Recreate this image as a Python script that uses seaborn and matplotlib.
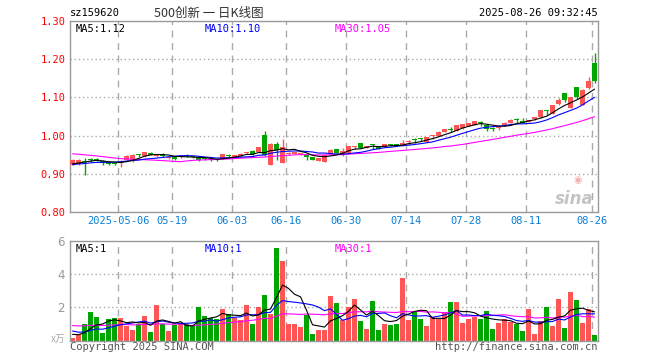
import numpy as np
import pandas as pd
import matplotlib
matplotlib.use("Agg")
import matplotlib.pyplot as plt
import seaborn as sns

# ---------------- data ----------------
opens = [0.924, 0.925, 0.934, 0.939, 0.938, 0.934, 0.930, 0.929, 0.928, 0.936,
         0.934, 0.950, 0.946, 0.955, 0.946, 0.953, 0.941, 0.944, 0.943, 0.948,
         0.945, 0.945, 0.941, 0.937, 0.937, 0.941, 0.948, 0.943, 0.946, 0.954,
         0.960, 0.957, 1.002, 0.923, 0.979, 0.929, 0.952, 0.953, 0.951, 0.950,
         0.944, 0.934, 0.932, 0.953, 0.964, 0.948, 0.955, 0.971, 0.980, 0.968,
         0.976, 0.971, 0.971, 0.977, 0.976, 0.975, 0.984, 0.990, 0.991, 0.983,
         0.998, 0.999, 1.010, 1.016, 1.013, 1.019, 1.025, 1.028, 1.033, 1.028,
         1.019, 1.019, 1.027, 1.034, 1.042, 1.039, 1.036, 1.043, 1.048, 1.065,
         1.057, 1.082, 1.111, 1.072, 1.126, 1.080, 1.124, 1.191]
closes = [0.936, 0.936, 0.931, 0.936, 0.937, 0.929, 0.925, 0.926, 0.932, 0.946,
          0.948, 0.948, 0.956, 0.950, 0.951, 0.946, 0.943, 0.939, 0.947, 0.947,
          0.944, 0.937, 0.938, 0.936, 0.935, 0.951, 0.946, 0.949, 0.953, 0.955,
          0.951, 0.970, 0.948, 0.979, 0.962, 0.970, 0.954, 0.956, 0.952, 0.943,
          0.937, 0.941, 0.950, 0.963, 0.955, 0.959, 0.973, 0.973, 0.968, 0.973,
          0.975, 0.966, 0.978, 0.976, 0.975, 0.980, 0.986, 0.989, 0.990, 0.996,
          0.999, 1.010, 1.017, 1.015, 1.027, 1.030, 1.032, 1.037, 1.032, 1.018,
          1.018, 1.020, 1.034, 1.042, 1.041, 1.034, 1.041, 1.048, 1.066, 1.064,
          1.080, 1.092, 1.092, 1.101, 1.101, 1.120, 1.143, 1.143]
highs = [0.938, 0.938, 0.941, 0.941, 0.941, 0.936, 0.932, 0.931, 0.935, 0.948,
         0.951, 0.951, 0.958, 0.957, 0.953, 0.955, 0.944, 0.945, 0.949, 0.951,
         0.946, 0.946, 0.943, 0.939, 0.938, 0.952, 0.951, 0.950, 0.954, 0.958,
         0.961, 0.971, 1.013, 0.980, 0.983, 0.991, 0.956, 0.957, 0.954, 0.951,
         0.945, 0.942, 0.951, 0.964, 0.965, 0.968, 0.974, 0.974, 0.981, 0.974,
         0.979, 0.972, 0.979, 0.979, 0.977, 0.989, 0.989, 0.993, 0.995, 0.997,
         1.001, 1.011, 1.018, 1.022, 1.028, 1.031, 1.033, 1.038, 1.039, 1.029,
         1.023, 1.025, 1.035, 1.043, 1.045, 1.047, 1.042, 1.049, 1.067, 1.068,
         1.081, 1.099, 1.112, 1.102, 1.127, 1.121, 1.154, 1.216]
lows = [0.922, 0.924, 0.896, 0.932, 0.934, 0.922, 0.922, 0.924, 0.917, 0.935,
        0.931, 0.945, 0.945, 0.949, 0.944, 0.945, 0.940, 0.937, 0.941, 0.943,
        0.941, 0.934, 0.936, 0.934, 0.933, 0.940, 0.943, 0.941, 0.945, 0.951,
        0.950, 0.956, 0.947, 0.922, 0.937, 0.927, 0.950, 0.952, 0.949, 0.937,
        0.936, 0.933, 0.931, 0.952, 0.954, 0.947, 0.954, 0.965, 0.967, 0.967,
        0.965, 0.965, 0.970, 0.973, 0.972, 0.974, 0.975, 0.980, 0.987, 0.982,
        0.990, 0.998, 1.009, 1.010, 1.012, 1.018, 1.024, 1.027, 1.025, 1.013,
        1.013, 1.015, 1.026, 1.033, 1.033, 1.032, 1.035, 1.042, 1.047, 1.055,
        1.056, 1.081, 1.087, 1.071, 1.096, 1.079, 1.123, 1.139]
volumes = [0.18, 0.40, 1.00, 1.70, 1.43, 0.46, 1.31, 1.37, 1.37, 0.90,
           0.67, 1.03, 1.50, 0.53, 2.16, 1.00, 0.60, 0.95, 1.00, 0.99,
           0.89, 2.04, 1.50, 1.39, 1.33, 1.92, 1.62, 1.39, 1.25, 2.12,
           1.03, 2.00, 2.77, 1.58, 5.56, 4.77, 1.01, 1.01, 0.81, 1.54,
           0.40, 0.67, 0.67, 2.67, 2.24, 1.25, 2.00, 2.53, 1.21, 0.71,
           2.40, 0.67, 1.01, 0.95, 1.01, 3.74, 1.27, 1.80, 1.31, 0.89,
           1.41, 1.31, 1.74, 2.30, 2.30, 1.07, 1.31, 1.41, 1.31, 1.76,
           0.71, 1.07, 1.31, 1.15, 0.99, 0.59, 1.88, 0.42, 1.19, 2.04,
           0.87, 2.53, 0.79, 2.91, 2.46, 1.07, 1.88, 0.34]
# sessions before the visible window (only feed the moving averages)
hist_close = [0.970, 0.975, 0.978, 0.980, 0.985, 0.982, 0.980, 0.978, 0.975, 0.972,
              0.970, 0.968, 0.972, 0.975, 0.970, 0.972, 0.975, 0.970, 0.885, 0.900,
              0.915, 0.920, 0.918, 0.925, 0.928, 0.925, 0.920, 0.922, 0.928]
hist_vol = [0.9, 1.0, 0.8, 1.1, 0.9, 0.8, 1.0, 0.9, 0.7, 1.2,
            0.9, 0.8, 0.9, 1.0, 0.8, 1.1, 1.0, 0.9, 2.5, 2.2,
            1.1, 0.9, 0.7, 0.6, 0.6, 0.5, 0.4, 0.45, 0.37]
tick_pos = [8, 17, 27, 36, 46, 56, 66, 76, 87]
tick_labels = ["2025-05-06", "05-19", "06-03", "06-16", "06-30",
               "07-14", "07-28", "08-11", "08-26"]
price_ticks = [0.80, 0.90, 1.00, 1.10, 1.20, 1.30]
vol_ticks = [2, 4, 6]

# ---------------- derived ----------------
n = len(closes)
idx = np.arange(n)
o = np.array(opens); c = np.array(closes); h = np.array(highs); l = np.array(lows)
up = c >= o
allc = pd.Series(hist_close + closes)
allv = pd.Series(hist_vol + volumes)
k0 = len(hist_close)
ma = {w: allc.rolling(w).mean().values[k0:] for w in (5, 10, 30)}
vma = {w: allv.rolling(w).mean().values[k0:] for w in (5, 10, 30)}

RED = "#ff5555"
GREEN = "#00a600"
GRID = "#aaaaaa"
SPINE = "#999999"
MONO = "DejaVu Sans Mono"
LW = 0.8

sns.set_style("white")
plt.rcParams["font.family"] = ["DejaVu Sans Mono", "Noto Sans CJK SC"]

W, H = 660, 360
fig = plt.figure(figsize=(6.6, 3.6), dpi=100)
ax = fig.add_axes([70 / W, 1 - 212 / H, 528 / W, 191 / H])
axv = fig.add_axes([70 / W, 1 - 340.7 / H, 528 / W, 100 / H])

xlo, xhi = -0.42, 87.58
grid_x = [p - 0.42 for p in tick_pos]

# ---- price panel ----
for y in price_ticks[1:-1]:
    ax.axhline(y, color=GRID, lw=1, ls=(0, (1, 2)), zorder=0)
for gx in grid_x:
    ax.axvline(gx, color=GRID, lw=1, ls=(0, (5, 4)), zorder=0)

cols = [RED if u else GREEN for u in up]
ax.vlines(idx, l, h, colors=cols, lw=1, zorder=2)
body_h = np.maximum(np.abs(c - o), 0.0028)
ax.bar(idx, body_h, bottom=np.minimum(o, c), width=0.83, color=cols,
       linewidth=0, zorder=3)

sns.lineplot(x=idx, y=ma[30], color="#ff00ff", lw=LW, ax=ax, zorder=4)
sns.lineplot(x=idx, y=ma[10], color="#0000ff", lw=LW, ax=ax, zorder=5)
sns.lineplot(x=idx, y=ma[5], color="black", lw=LW, ax=ax, zorder=6)

ax.set_xlim(xlo, xhi)
ax.set_ylim(0.80, 1.30)
ax.set_yticks(price_ticks)
ax.set_yticklabels([f"{t:.2f}" for t in price_ticks], color="red",
                   fontsize=7.5, family=MONO)
ax.set_xticks(grid_x)
ax.set_xticklabels(tick_labels, color="#0a7fd6", fontsize=7.5, family=MONO)
ax.tick_params(axis="both", length=0, pad=3)
ax.set_xlabel(""); ax.set_ylabel("")
for s in ax.spines.values():
    s.set_color(SPINE); s.set_linewidth(1)

ax.text(0.01, 0.985, f"MA5:{ma[5][-1]:.2f}", transform=ax.transAxes,
        color="black", fontsize=7.5, va="top", ha="left", family=MONO)
ax.text(135 / 528, 0.985, f"MA10:{ma[10][-1]:.2f}", transform=ax.transAxes,
        color="#0000ff", fontsize=7.5, va="top", ha="left", family=MONO)
ax.text(265 / 528, 0.985, f"MA30:{ma[30][-1]:.2f}", transform=ax.transAxes,
        color="#ff00ff", fontsize=7.5, va="top", ha="left", family=MONO)
# sina watermark
ax.text(0.992, 0.02, "sina", transform=ax.transAxes, color="#c4c4c4",
        fontsize=12, fontweight="bold", fontstyle="italic", ha="right",
        va="bottom", family="DejaVu Sans", zorder=1)
ax.text(0.962, 0.165, "◉", transform=ax.transAxes, color="#f3b0b0",
        fontsize=7, ha="center", va="center", family="DejaVu Sans", zorder=1)

# ---- volume panel ----
for y in vol_ticks[:-1]:
    axv.axhline(y, color=GRID, lw=1, ls=(0, (1, 2)), zorder=0)
for gx in grid_x:
    axv.axvline(gx, color=GRID, lw=1, ls=(0, (5, 4)), zorder=0)

vdf = pd.DataFrame({"idx": idx, "vol": volumes,
                    "dir": np.where(up, "up", "down")})
sns.barplot(data=vdf, x="idx", y="vol", hue="dir",
            palette={"up": RED, "down": GREEN}, dodge=False,
            native_scale=True, width=0.83, legend=False, saturation=1,
            errorbar=None, linewidth=0, ax=axv, zorder=2)
sns.lineplot(x=idx, y=vma[30], color="#ff00ff", lw=LW, ax=axv, zorder=4)
sns.lineplot(x=idx, y=vma[10], color="#0000ff", lw=LW, ax=axv, zorder=5)
sns.lineplot(x=idx, y=vma[5], color="black", lw=LW, ax=axv, zorder=6)

axv.set_xlim(xlo, xhi)
axv.set_ylim(0, 6)
axv.set_xticks([])
axv.set_yticks(vol_ticks)
axv.set_yticklabels([str(t) for t in vol_ticks], color="#999999",
                    fontsize=8.5, family="DejaVu Sans")
axv.tick_params(axis="both", length=0, pad=4)
axv.set_xlabel(""); axv.set_ylabel("")
for s in axv.spines.values():
    s.set_color(SPINE); s.set_linewidth(1)

axv.text(0.01, 0.97, f"MA5:{int(vma[5][-1])}", transform=axv.transAxes,
         color="black", fontsize=7.5, va="top", ha="left", family=MONO)
axv.text(135 / 528, 0.97, f"MA10:{int(vma[10][-1])}", transform=axv.transAxes,
         color="#0000ff", fontsize=7.5, va="top", ha="left", family=MONO)
axv.text(265 / 528, 0.97, f"MA30:{int(vma[30][-1])}", transform=axv.transAxes,
         color="#ff00ff", fontsize=7.5, va="top", ha="left", family=MONO)

# ---- header / footer text ----
def ft(x, y, s, **kw):
    fig.text(x / W, 1 - y / H, s, **kw)

ft(70, 13, "sz159620", fontsize=7.5, color="black", va="center", ha="left",
   family=MONO)
ft(209, 13, "500创新 一 日K线图", fontsize=9, color="#333333", va="center",
   ha="center", family=["Noto Sans CJK SC", "DejaVu Sans"])
ft(598, 13, "2025-08-26 09:32:45", fontsize=7.5, color="black", va="center",
   ha="right", family=MONO)
ft(65, 339, "x万", fontsize=7, color="#aaaaaa", va="center", ha="right",
   family=["Noto Sans CJK SC", "DejaVu Sans"])
ft(70, 347, "Copyright 2025 SINA.COM", fontsize=7.5, color="#555555",
   va="center", ha="left", family=MONO)
ft(598, 347, "http://finance.sina.com.cn", fontsize=7.5, color="#555555",
   va="center", ha="right", family=MONO)

fig.savefig("out.png", dpi=100, facecolor="white")
